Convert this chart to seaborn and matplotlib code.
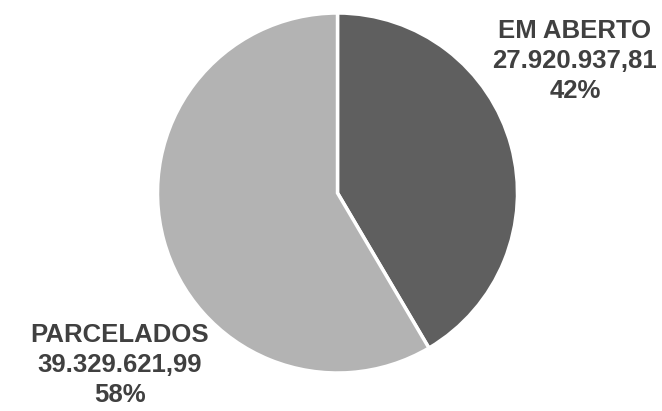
import matplotlib
matplotlib.use("Agg")
import matplotlib.pyplot as plt
import seaborn as sns

# dados do gráfico
categorias = ["EM ABERTO", "PARCELADOS"]
valores = [27920937.81, 39329621.99]
rotulos_valor = ["27.920.937,81", "39.329.621,99"]
cores = ["#5f5f5f", "#b3b3b3"]

sns.set_theme(style="white")
plt.rcParams["font.family"] = ["Liberation Sans", "DejaVu Sans"]

fig = plt.figure(figsize=(6.62, 4.11), dpi=100)
W, H = 662, 411
cx, cy, r = 337.5, 193, 180
ax = fig.add_axes([(cx - r) / W, (H - cy - r) / H, 2 * r / W, 2 * r / H])

ax.pie(valores, colors=cores, startangle=90, counterclock=False,
       wedgeprops=dict(edgecolor="white", linewidth=2.5))

total = sum(valores)
posicoes = [(1.319, 0.735), (-1.211, -0.955)]
for cat, rot, v, (x, y) in zip(categorias, rotulos_valor, valores, posicoes):
    pct = round(v / total * 100)
    ax.text(x, y, f"{cat}\n{rot}\n{pct}%", ha="center", va="center",
            fontsize=18.5, fontweight="bold", color="#404040", linespacing=1.32)

ax.set_xlim(-1, 1)
ax.set_ylim(-1, 1)
ax.set_aspect("equal")
ax.axis("off")

fig.savefig("out.png", dpi=100)
